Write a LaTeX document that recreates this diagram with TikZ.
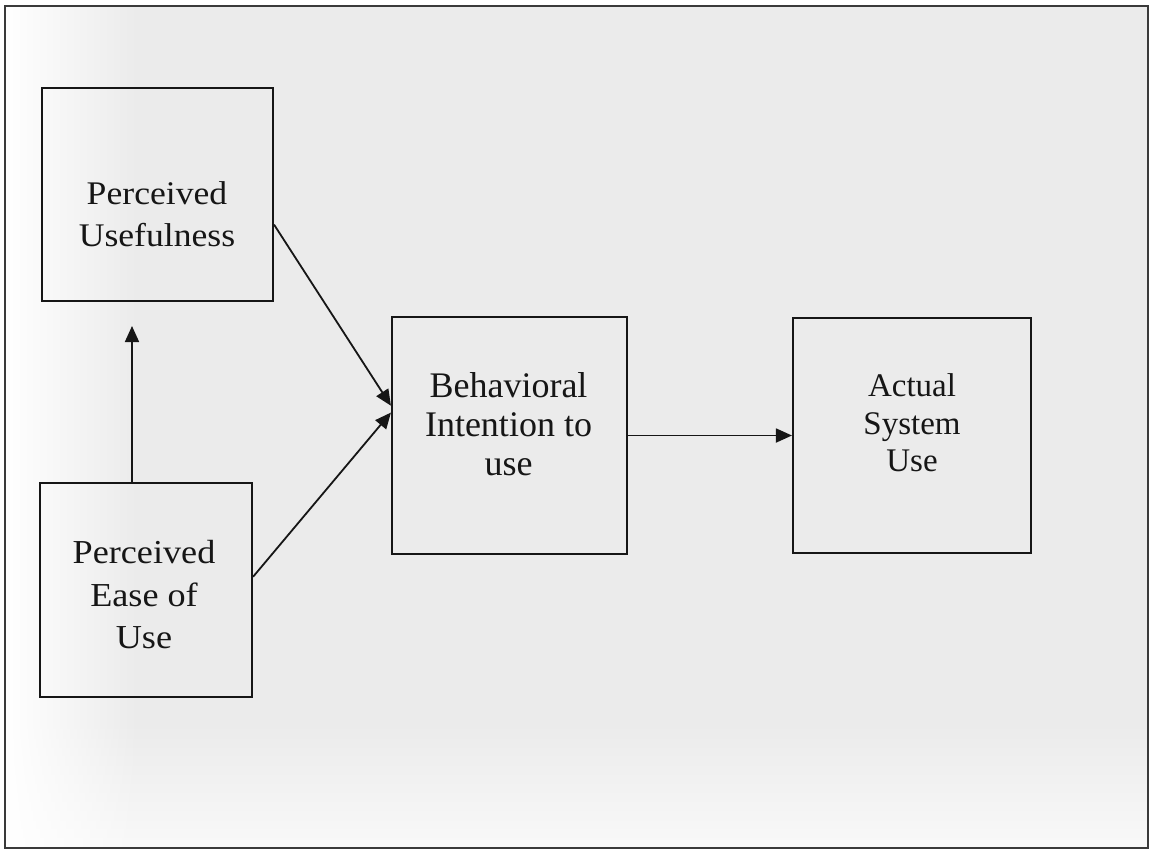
\documentclass[tikz,border=0pt]{standalone}
\usepackage{fontspec}
\setmainfont{Liberation Serif}
\newfontfamily\wideserif[FakeStretch=1.08]{Liberation Serif}
\usetikzlibrary{arrows.meta,calc,fadings}
\definecolor{bgc}{HTML}{EBEBEB}
\definecolor{ink}{HTML}{161616}
\definecolor{framec}{HTML}{3A3A3A}
\begin{document}
\begin{tikzpicture}[x=1pt,y=-1pt,
  box/.style={draw=ink, line width=2.1pt, inner sep=0pt, rectangle},
  lbl/.style={text=ink, align=center, inner sep=0pt},
  arr/.style={draw=ink, line width=1.8pt, -{Triangle[length=16pt,width=14pt]}}]
\useasboundingbox (0,0) rectangle (1154,851);
\fill[white] (0,0) rectangle (1154,851);
% paper background with soft fades
\fill[bgc] (5,6) rectangle (1148,848);
\fill[white, opacity=0.7, path fading=north] (6,720) rectangle (1147,847);
\fill[white, path fading=east] (6,7) rectangle (140,847);
\draw[framec, line width=2.6pt] (5,6) rectangle (1148,848);
% boxes
\node[box, minimum width=231pt, minimum height=213pt] (pu)  at (157.5,194.5) {};
\node[box, minimum width=212pt, minimum height=214pt] (peu) at (146,590) {};
\node[box, minimum width=235pt, minimum height=237pt] (bi)  at (509.5,435.5) {};
\node[box, minimum width=238pt, minimum height=235pt] (asu) at (912,435.5) {};
% labels
\node[lbl, font=\wideserif\fontsize{33}{42.4}\selectfont] (tpu) at (157,214.3) {Perceived\\Usefulness};
\node[lbl, font=\wideserif\fontsize{33.5}{42.5}\selectfont] (tpeu) at (144,595) {Perceived\\Ease of\\Use};
\node[lbl, font=\fontsize{36}{38.9}\selectfont] (tbi) at (508.5,424.5) {Behavioral\\Intention to\\use};
\node[lbl, font=\fontsize{33}{37.5}\selectfont] (tasu) at (912,423) {Actual\\System\\Use};
% connectors
\coordinate (tipup) at (132,326);
\draw[arr] (peu.north -| tipup) -- (tipup);
\draw[arr] ($(pu.north east)!0.64!(pu.south east)$) -- ($(bi.north west)!0.3755!(bi.south west)$);
\draw[arr] ($(peu.north east)!0.439!(peu.south east)$) -- ($(bi.north west)!0.404!(bi.south west)$);
\draw[arr] (bi.east) -- (asu.west);
\end{tikzpicture}
\end{document}
